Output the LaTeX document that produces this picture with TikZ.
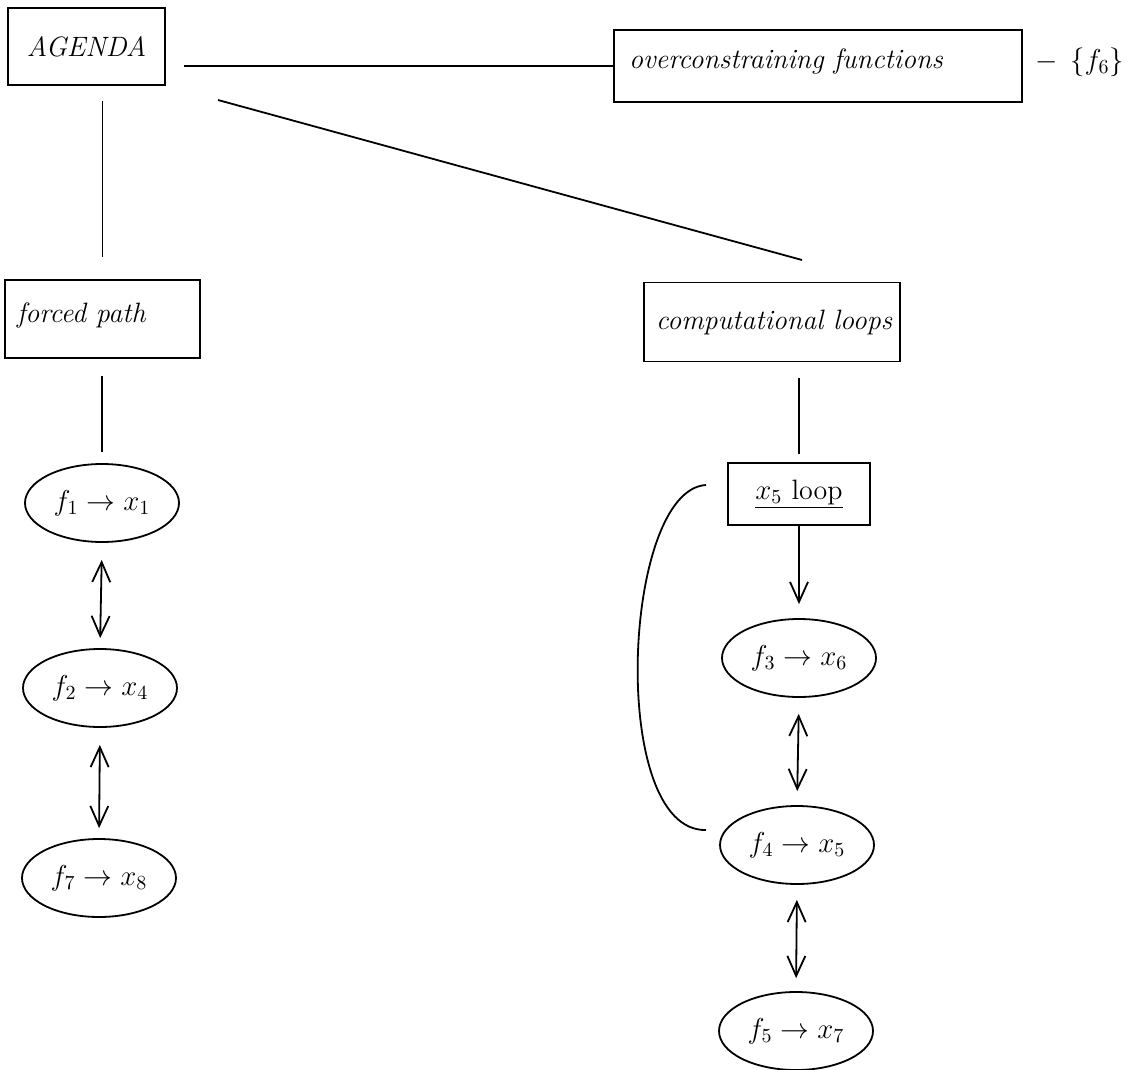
\documentclass[tikz,border=0pt]{standalone}
\usetikzlibrary{arrows.meta,shapes.geometric}
\begin{document}
\begin{tikzpicture}[x=0.5pt,y=-0.5pt,
  every node/.style={font=\fontsize{14}{17}\selectfont},
  box/.style={draw,line width=0.9pt,inner sep=0pt},
  oval/.style={draw,ellipse,line width=0.9pt,inner sep=0pt,minimum width=77pt,minimum height=39pt},
  conn/.style={line width=0.9pt},
  dbl/.style={line width=0.9pt,{Straight Barb[length=10pt,width=9pt]}-{Straight Barb[length=10pt,width=9pt]}},
  sgl/.style={line width=0.9pt,-{Straight Barb[length=10pt,width=9pt]}}]
\useasboundingbox (0,0) rectangle (1141,1070);
% boxes
\node[box,minimum width=78.5pt,minimum height=38.5pt] (agenda) at (86.5,46.5) {\itshape AGENDA};
\node[box,minimum width=204pt,minimum height=36pt] (over) at (818,66) {};
\node[anchor=west] (overtxt) at (622,62) {\itshape overconstraining functions};
\node[anchor=west] (f6) at (1028,62) {$-\;\,\{f_6\}$};
\node[box,minimum width=97.5pt,minimum height=39pt] (fp) at (102.5,319) {};
\node[anchor=west] (fptxt) at (10,315) {\itshape forced path};
\node[box,minimum width=128pt,minimum height=39.5pt] (cl) at (772,322) {};
\node (cltxt) at (774,322) {\itshape computational loops};
\node[box,minimum width=71pt,minimum height=31pt] (x5) at (799,494) {\underline{$x_5$ loop}};
% ellipses
\node[oval] (e1) at (102,503) {$f_1\rightarrow x_1$};
\node[oval] (e2) at (100,688) {$f_2\rightarrow x_4$};
\node[oval] (e7) at (99,878) {$f_7\rightarrow x_8$};
\node[oval] (e3) at (799,658) {$f_3\rightarrow x_6$};
\node[oval] (e4) at (797,845) {$f_4\rightarrow x_5$};
\node[oval] (e5) at (796,1031) {$f_5\rightarrow x_7$};
% connectors
\draw[conn,shorten <=9pt] (agenda.east |- over.west) -- (over.west);
\coordinate (d1) at (218,100);
\coordinate (d2) at (802,260);
\draw[conn] (d1) -- (d2);
\draw[conn,shorten <=7.5pt,shorten >=11pt] (fp.north |- agenda.south) -- (fp.north);
\draw[conn,shorten <=8.5pt,shorten >=5.5pt] (e1.north |- fp.south) -- (e1.north);
\draw[conn,shorten <=8pt,shorten >=4pt] (cl.south -| x5.north) -- (x5.north);
\draw[sgl,shorten >=7pt] (x5.south -| e3.north) -- (e3.north);
\draw[dbl,shorten <=8.5pt,shorten >=5pt] (e1.south) -- (e2.north);
\draw[dbl,shorten <=8.5pt,shorten >=5pt] (e2.south) -- (e7.north);
\draw[dbl,shorten <=8pt,shorten >=7pt] (e3.south) -- (e4.north);
\draw[dbl,shorten <=7.5pt,shorten >=6.5pt] (e4.south) -- (e5.north);
\coordinate (ls) at (706,485);
\coordinate (le) at (706,830);
\draw[conn] (ls) .. controls (622,490) and (608,832) .. (le);
\end{tikzpicture}
\end{document}
